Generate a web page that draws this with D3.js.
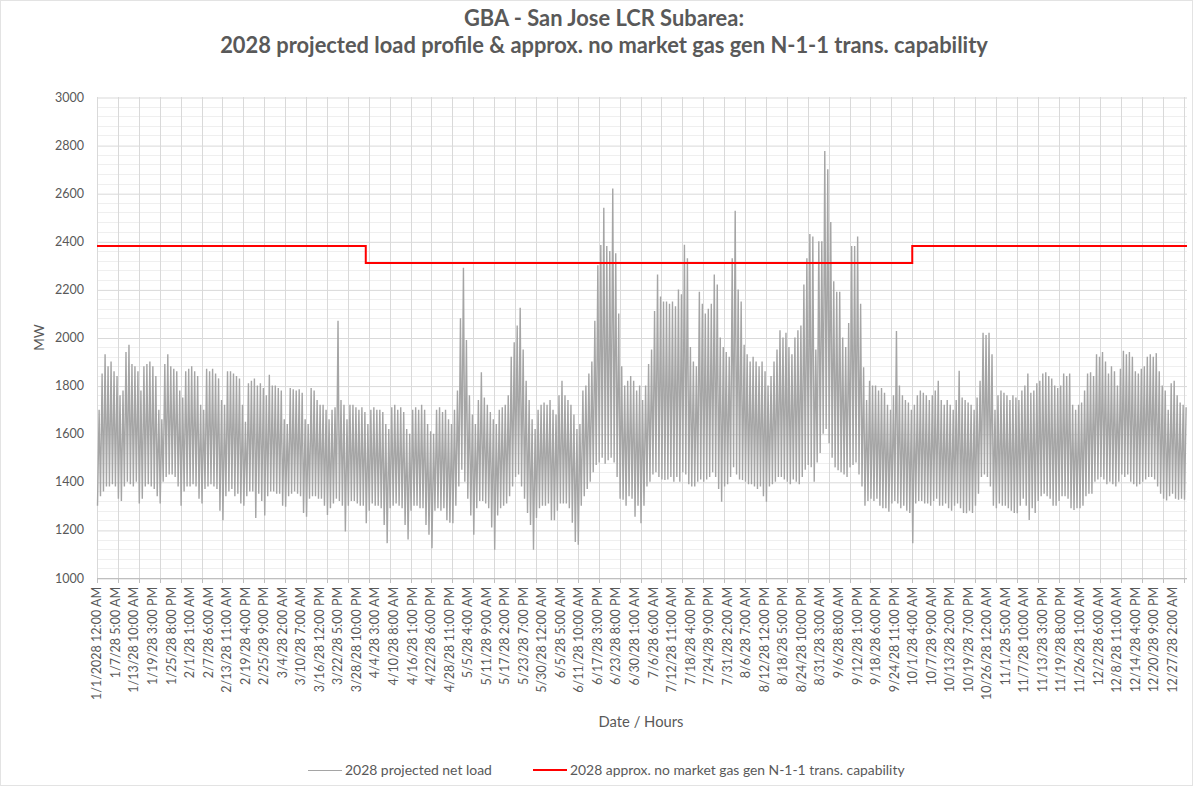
<!DOCTYPE html>
<html>
<head>
<meta charset="utf-8">
<script src="https://cdn.jsdelivr.net/npm/d3@7/dist/d3.min.js"></script>
<style>
  html, body { margin: 0; padding: 0; background: #ffffff; }
  svg { display: block; }
  text { font-family: Lato, "Open Sans", sans-serif; fill: #595959; }
</style>
</head>
<body>
<svg id="chart" width="1193" height="786"></svg>
<script>
// ---------------- DATA ----------------
const titleLines = [
  "GBA - San Jose LCR Subarea:",
  "2028 projected load profile & approx. no market gas gen N-1-1 trans. capability"
];
const yAxisTitle = "MW";
const xAxisTitle = "Date / Hours";
const seriesNames = ["2028 projected net load", "2028 approx. no market gas gen N-1-1 trans. capability"];

const yTicks = [1000, 1200, 1400, 1600, 1800, 2000, 2200, 2400, 2600, 2800, 3000];
const yMinorStep = 40;

const xTickLabels = [
  "1/1/2028 12:00 AM", "1/7/28 5:00 AM", "1/13/28 10:00 AM", "1/19/28 3:00 PM", "1/25/28 8:00 PM",
  "2/1/28 1:00 AM", "2/7/28 6:00 AM", "2/13/28 11:00 AM", "2/19/28 4:00 PM", "2/25/28 9:00 PM",
  "3/4/28 2:00 AM", "3/10/28 7:00 AM", "3/16/28 12:00 PM", "3/22/28 5:00 PM", "3/28/28 10:00 PM",
  "4/4/28 3:00 AM", "4/10/28 8:00 AM", "4/16/28 1:00 PM", "4/22/28 6:00 PM", "4/28/28 11:00 PM",
  "5/5/28 4:00 AM", "5/11/28 9:00 AM", "5/17/28 2:00 PM", "5/23/28 7:00 PM", "5/30/28 12:00 AM",
  "6/5/28 5:00 AM", "6/11/28 10:00 AM", "6/17/28 3:00 PM", "6/23/28 8:00 PM", "6/30/28 1:00 AM",
  "7/6/28 6:00 AM", "7/12/28 11:00 AM", "7/18/28 4:00 PM", "7/24/28 9:00 PM", "7/31/28 2:00 AM",
  "8/6/28 7:00 AM", "8/12/28 12:00 PM", "8/18/28 5:00 PM", "8/24/28 10:00 PM", "8/31/28 3:00 AM",
  "9/6/28 8:00 AM", "9/12/28 1:00 PM", "9/18/28 6:00 PM", "9/24/28 11:00 PM", "10/1/28 4:00 AM",
  "10/7/28 9:00 AM", "10/13/28 2:00 PM", "10/19/28 7:00 PM", "10/26/28 12:00 AM", "11/1/28 5:00 AM",
  "11/7/28 10:00 AM", "11/13/28 3:00 PM", "11/19/28 8:00 PM", "11/26/28 1:00 AM", "12/2/28 6:00 AM",
  "12/8/28 11:00 AM", "12/14/28 4:00 PM", "12/20/28 9:00 PM", "12/27/28 2:00 AM"
];
const totalHours = 8760;        // hourly categories in the series
const labelIntervalHours = 149; // category axis label interval
const tickIntervalHours = 168;  // category axis tick / gridline interval

// Daily peak (evening) load, MW, day 0 = Jan 1
const dailyPeak = [
  1700,1850,1930,1880,1900,1860,1840,1760,1780,1940,
  1970,1890,1880,1860,1780,1880,1890,1900,1880,1840,
  1700,1660,1890,1930,1880,1870,1860,1780,1750,1860,
  1870,1880,1860,1840,1720,1700,1870,1860,1870,1850,
  1830,1740,1720,1860,1860,1850,1840,1830,1720,1650,
  1810,1820,1830,1800,1810,1790,1760,1845,1800,1800,
  1790,1780,1660,1640,1790,1785,1780,1785,1770,1660,
  1640,1790,1780,1740,1720,1720,1700,1660,1700,1710,
  2070,1740,1720,1660,1720,1720,1710,1700,1710,1690,
  1640,1700,1710,1700,1700,1690,1640,1620,1710,1720,
  1700,1710,1690,1620,1600,1700,1710,1700,1720,1700,
  1640,1610,1600,1700,1710,1690,1700,1660,1640,1700,
  1780,2080,2290,1990,1760,1680,1640,1740,1855,1750,
  1720,1690,1660,1640,1700,1710,1720,1760,1920,1980,
  2050,2124,1950,1820,1740,1660,1620,1700,1720,1730,
  1720,1740,1700,1680,1760,1820,1760,1740,1720,1680,
  1620,1640,1780,1800,1850,1900,2070,2300,2385,2540,
  2380,2360,2620,2350,2100,1880,1800,1820,1840,1820,
  1780,1800,1740,1800,1890,1950,2110,2262,2170,2150,
  2150,2140,2150,2130,2200,2180,2386,2330,1960,1900,
  1880,2190,2140,2100,2120,2140,2262,2220,2000,1960,
  1940,1920,2330,2527,2200,2150,1970,1930,1900,1920,
  1900,1880,1900,1860,1800,1840,1900,1950,2030,2000,
  2020,1960,1930,2000,2030,2050,2220,2330,2430,2420,
  1950,2400,2400,2775,2700,2480,2234,2190,2190,2000,
  1960,2060,2380,2380,2420,2140,1876,1740,1820,1800,
  1800,1780,1790,1770,1720,1700,1760,2027,1800,1760,
  1740,1730,1700,1720,1760,1780,1770,1760,1740,1760,
  1780,1820,1740,1720,1740,1720,1700,1740,1862,1750,
  1740,1730,1720,1700,1750,1820,2020,2010,2020,1930,
  1700,1760,1780,1770,1760,1740,1760,1750,1740,1780,
  1800,1850,1770,1780,1810,1820,1850,1855,1840,1830,
  1800,1790,1800,1850,1840,1850,1720,1700,1720,1730,
  1780,1850,1855,1840,1930,1920,1940,1900,1850,1880,
  1860,1800,1870,1945,1930,1940,1920,1860,1850,1870,
  1880,1920,1930,1920,1935,1860,1800,1780,1700,1810,
  1820,1760,1730,1720,1710
];
// Daily overnight minimum load, MW
const dailyLow = [
  1300,1340,1360,1380,1380,1390,1380,1330,1320,1380,
  1400,1390,1380,1400,1310,1330,1380,1390,1380,1370,
  1340,1310,1400,1420,1430,1430,1420,1380,1300,1360,
  1380,1380,1390,1380,1330,1310,1370,1380,1390,1380,
  1370,1280,1240,1340,1360,1370,1340,1350,1310,1300,
  1340,1360,1360,1250,1350,1320,1260,1340,1360,1360,
  1350,1350,1300,1296,1340,1350,1360,1350,1340,1270,
  1255,1330,1340,1340,1330,1330,1300,1262,1290,1310,
  1330,1320,1300,1193,1300,1320,1320,1310,1300,1300,
  1228,1280,1310,1300,1300,1290,1220,1145,1290,1300,
  1310,1300,1290,1220,1160,1280,1300,1300,1290,1290,
  1220,1180,1124,1280,1290,1280,1290,1240,1230,1228,
  1300,1380,1450,1400,1330,1260,1180,1290,1320,1320,
  1310,1290,1210,1117,1260,1290,1300,1310,1340,1380,
  1420,1430,1380,1330,1270,1220,1117,1250,1290,1300,
  1300,1310,1240,1240,1280,1310,1310,1310,1290,1230,
  1150,1138,1300,1340,1370,1400,1440,1470,1480,1500,
  1475,1490,1500,1480,1420,1330,1325,1300,1340,1330,
  1255,1300,1228,1300,1380,1400,1430,1440,1420,1410,
  1407,1410,1420,1400,1420,1400,1440,1430,1390,1380,
  1380,1400,1410,1400,1410,1420,1440,1420,1370,1317,
  1380,1390,1420,1460,1430,1410,1407,1400,1390,1390,
  1380,1370,1380,1340,1317,1380,1390,1400,1420,1420,
  1410,1400,1390,1410,1400,1390,1420,1450,1470,1460,
  1400,1480,1520,1600,1620,1560,1500,1460,1448,1440,
  1430,1420,1460,1470,1480,1430,1380,1300,1320,1330,
  1320,1330,1300,1290,1290,1276,1310,1320,1310,1290,
  1300,1280,1270,1145,1310,1320,1320,1310,1310,1300,
  1320,1330,1300,1300,1310,1290,1280,1300,1310,1290,
  1270,1269,1280,1270,1300,1350,1420,1430,1420,1380,
  1300,1290,1310,1300,1300,1290,1280,1270,1269,1300,
  1330,1300,1241,1290,1270,1320,1340,1350,1340,1330,
  1300,1300,1320,1340,1340,1330,1290,1283,1290,1290,
  1300,1340,1350,1350,1400,1410,1420,1410,1390,1400,
  1390,1380,1400,1430,1420,1430,1400,1390,1380,1390,
  1400,1410,1420,1420,1410,1380,1350,1330,1322,1340,
  1350,1330,1325,1330,1325
];
const lowHourOfDay = 4;
const peakHourOfDay = 17;

// Transmission capability: step values starting at given hour
const capStartHour = [0, 2160, 6552];
const capValue = [2380, 2310, 2380];

// ---------------- DRAWING ----------------
const svg = d3.select("#chart");
const W = 1193, H = 786;
const M = { left: 97, right: 1187, top: 97, bottom: 578 };

const x = d3.scaleLinear().domain([0, totalHours]).range([M.left, M.right]);
const y = d3.scaleLinear().domain([1000, 3000]).range([M.bottom, M.top]);

// chart border
svg.append("rect").attr("x", 0.5).attr("y", 0.5).attr("width", W - 1).attr("height", H - 1)
  .attr("fill", "#fff").attr("stroke", "#e3e3e3");

// minor horizontal gridlines
const minorVals = d3.range(yTicks[0], yTicks[yTicks.length - 1] + 1, yMinorStep).filter(v => !yTicks.includes(v));
svg.append("g").selectAll("line").data(minorVals).join("line")
  .attr("x1", M.left).attr("x2", M.right)
  .attr("y1", d => Math.round(y(d)) + 0.5).attr("y2", d => Math.round(y(d)) + 0.5)
  .attr("stroke", "#efefef").attr("stroke-width", 1);

// vertical gridlines (weekly)
const vTicks = d3.range(0, totalHours, tickIntervalHours);
svg.append("g").selectAll("line").data(vTicks).join("line")
  .attr("x1", d => Math.round(x(d)) + 0.5).attr("x2", d => Math.round(x(d)) + 0.5)
  .attr("y1", M.top).attr("y2", M.bottom)
  .attr("stroke", "#d9d9d9").attr("stroke-width", 1);

// major horizontal gridlines
const yAxis = d3.axisLeft(y).tickValues(yTicks).tickSize(-(M.right - M.left)).tickPadding(13).tickFormat(d3.format("d"));
const gy = svg.append("g").attr("transform", `translate(${M.left},0)`).call(yAxis);
gy.select(".domain").remove();
gy.selectAll(".tick line").attr("stroke", "#d9d9d9").attr("stroke-width", 1)
  .attr("transform", "translate(0,0.5)");
gy.selectAll(".tick text").style("font-family", "Lato, sans-serif").style("font-size", "12.5px").attr("fill", "#595959");

// x axis line + ticks
svg.append("line").attr("x1", M.left).attr("x2", M.right)
  .attr("y1", M.bottom + 0.5).attr("y2", M.bottom + 0.5).attr("stroke", "#bfbfbf");
svg.append("g").selectAll("line").data(vTicks).join("line")
  .attr("x1", d => Math.round(x(d)) + 0.5).attr("x2", d => Math.round(x(d)) + 0.5)
  .attr("y1", M.bottom).attr("y2", M.bottom + 5)
  .attr("stroke", "#bfbfbf");

// x tick labels (rotated)
svg.append("g").selectAll("text").data(xTickLabels).join("text")
  .attr("transform", (d, i) => `translate(${x(i * labelIntervalHours)},${M.bottom + 9}) rotate(-90)`)
  .attr("text-anchor", "end").attr("dy", "0.35em")
  .style("font-size", "12.5px")
  .text(d => d);

// load series
const loadPts = [];
dailyPeak.forEach((p, dIdx) => {
  loadPts.push([dIdx * 24 + lowHourOfDay, dailyLow[dIdx]]);
  loadPts.push([dIdx * 24 + peakHourOfDay, p]);
});
const line = d3.line().x(d => x(d[0])).y(d => y(d[1]));
svg.append("path").datum(loadPts).attr("d", line)
  .attr("fill", "none").attr("stroke", "#a5a5a5").attr("stroke-width", 1.4).attr("stroke-linejoin", "miter");

// capability step line
const capPts = capStartHour.map((h, i) => [h, capValue[i]]);
capPts.push([totalHours, capValue[capValue.length - 1]]);
const stepLine = d3.line().x(d => x(d[0])).y(d => y(d[1])).curve(d3.curveStepAfter);
svg.append("path").datum(capPts).attr("d", stepLine)
  .attr("fill", "none").attr("stroke", "#ff0000").attr("stroke-width", 2);

// titles
function fit(sel, target) {
  const w = sel.node().getComputedTextLength();
  const fs = parseFloat(sel.style("font-size"));
  sel.style("font-size", (fs * target / w) + "px");
}
const t1 = svg.append("text").attr("x", 604).attr("y", 26).attr("text-anchor", "middle")
  .style("font-weight", "bold").style("font-size", "20px").text(titleLines[0]);
const t2 = svg.append("text").attr("x", 604).attr("y", 53).attr("text-anchor", "middle")
  .style("font-weight", "bold").style("font-size", "20px").text(titleLines[1]);
fit(t2, 768);
t1.style("font-size", t2.style("font-size"));

svg.append("text").attr("transform", `translate(39,${(M.top + M.bottom) / 2}) rotate(-90)`)
  .attr("text-anchor", "middle").attr("dy", "0.35em").style("font-size", "13.5px").text(yAxisTitle);

const xt = svg.append("text").attr("x", 641).attr("y", 722).attr("text-anchor", "middle").attr("dy", "0.35em")
  .style("font-size", "14px").text(xAxisTitle);
fit(xt, 85);

// legend
const lg = svg.append("g");
lg.append("line").attr("x1", 308).attr("x2", 342).attr("y1", 770.5).attr("y2", 770.5)
  .attr("stroke", "#a5a5a5").attr("stroke-width", 1);
const l1 = lg.append("text").attr("x", 345).attr("y", 770).attr("dy", "0.35em").style("font-size", "13px").text(seriesNames[0]);
fit(l1, 147);
lg.append("line").attr("x1", 533).attr("x2", 567).attr("y1", 770).attr("y2", 770)
  .attr("stroke", "#ff0000").attr("stroke-width", 2);
const l2 = lg.append("text").attr("x", 570).attr("y", 770).attr("dy", "0.35em").style("font-size", "13px").text(seriesNames[1]);
fit(l2, 335);
</script>
</body>
</html>
